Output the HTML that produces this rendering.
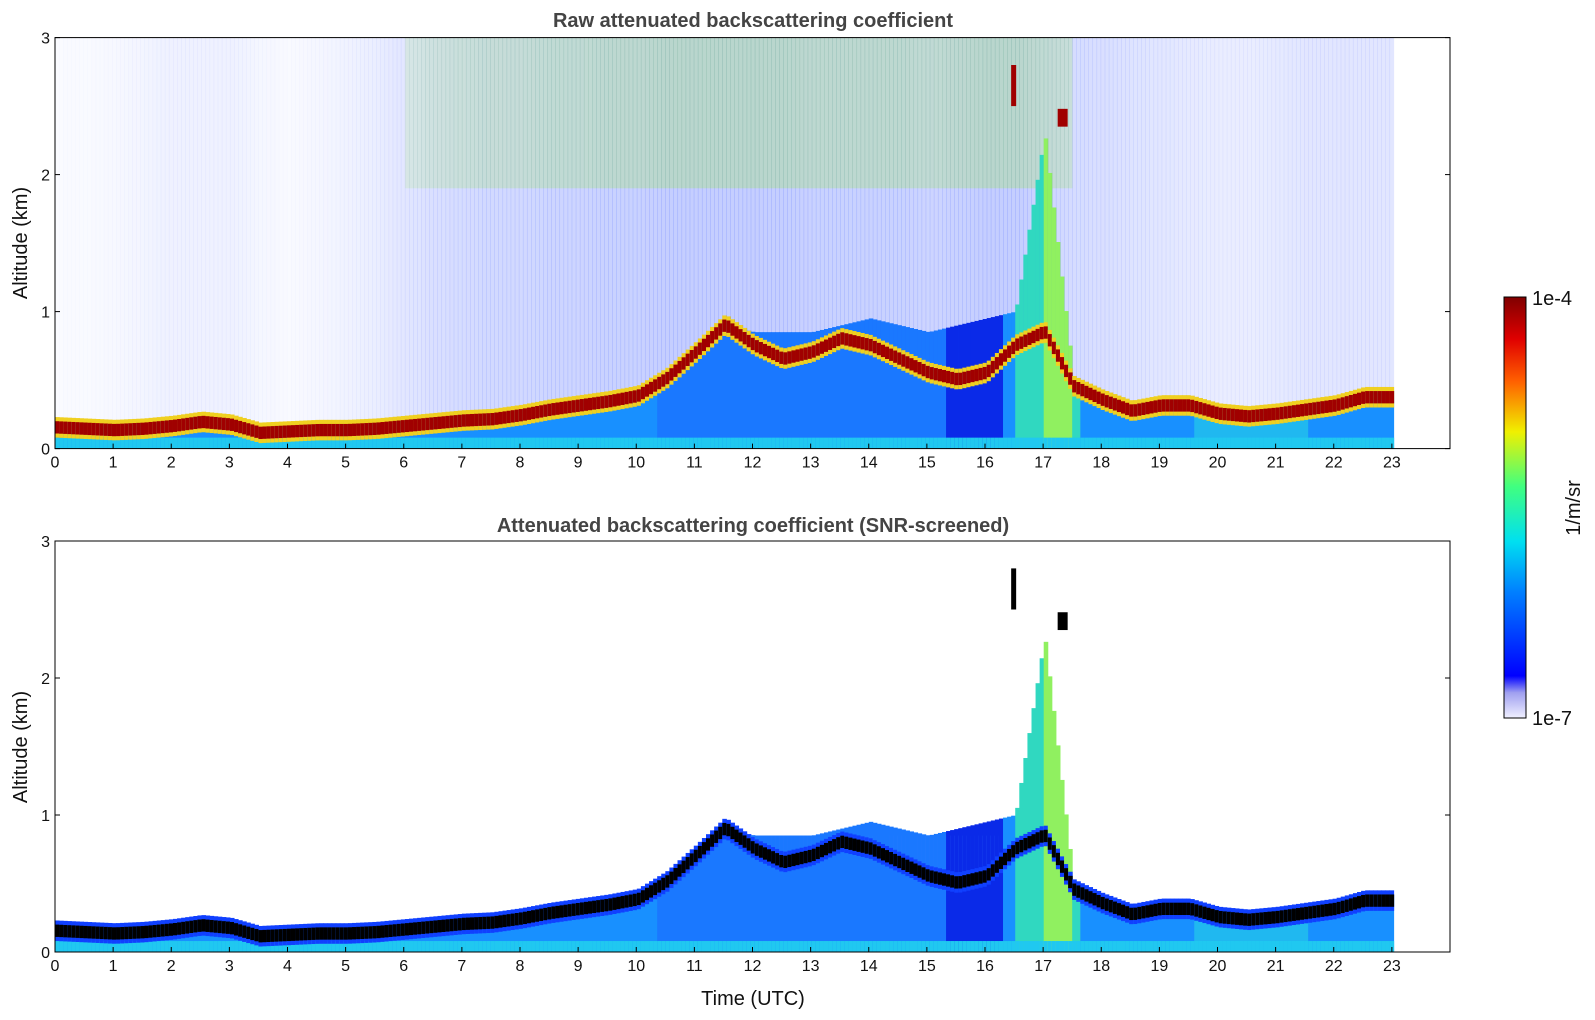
<!DOCTYPE html>
<html><head><meta charset="utf-8">
<style>
body{margin:0;background:#fff;}
svg{display:block;font-family:"Liberation Sans","DejaVu Sans",sans-serif;}
</style></head>
<body>
<svg id="chart" width="1595" height="1020" viewBox="0 0 1595 1020" xmlns="http://www.w3.org/2000/svg">
<defs>
<linearGradient id="jet" x1="0" y1="1" x2="0" y2="0">
<stop offset="0" stop-color="#f0f0ff"/><stop offset="0.06" stop-color="#a0a0f0"/>
<stop offset="0.1" stop-color="#0000ff"/><stop offset="0.3" stop-color="#0080ff"/>
<stop offset="0.42" stop-color="#00e0f0"/><stop offset="0.55" stop-color="#40ff80"/>
<stop offset="0.68" stop-color="#f0f000"/><stop offset="0.8" stop-color="#ff6000"/>
<stop offset="0.9" stop-color="#e00000"/><stop offset="1" stop-color="#800000"/>
</linearGradient>
</defs>
<g id="p1"></g>
<g id="p2"></g>
<text x="753" y="27" text-anchor="middle" font-size="20" font-weight="bold" fill="#444">Raw attenuated backscattering coefficient</text>
<text x="753" y="532" text-anchor="middle" font-size="20" font-weight="bold" fill="#444">Attenuated backscattering coefficient (SNR-screened)</text>
<text x="753" y="1005" text-anchor="middle" font-size="20" fill="#111">Time (UTC)</text>
<text transform="translate(27,243) rotate(-90)" text-anchor="middle" font-size="20" fill="#111">Altitude (km)</text>
<text transform="translate(27,747) rotate(-90)" text-anchor="middle" font-size="20" fill="#111">Altitude (km)</text>
<g>
<rect x="1504" y="297" width="22" height="421" fill="url(#jet)" stroke="#000" stroke-width="1"/>
<text x="1532" y="305" font-size="20" fill="#111">1e-4</text>
<text x="1532" y="725" font-size="20" fill="#111">1e-7</text>
<text transform="translate(1580,508) rotate(-90)" text-anchor="middle" font-size="20" fill="#111">1/m/sr</text>
</g>
</svg>
<script>
const times = [0,0.5,1,1.5,2,2.5,3,3.5,4,4.5,5,5.5,6,6.5,7,7.5,8,8.5,9,9.5,10,10.5,11,11.5,12,12.5,13,13.5,14,14.5,15,15.5,16,16.5,17,17.5,18,18.5,19,19.5,20,20.5,21,21.5,22,22.5,23];
const layerTop = [0.2,0.19,0.18,0.19,0.21,0.24,0.22,0.16,0.17,0.18,0.18,0.19,0.21,0.23,0.25,0.26,0.29,0.33,0.36,0.39,0.43,0.56,0.75,0.95,0.8,0.7,0.75,0.85,0.8,0.7,0.6,0.55,0.6,0.8,0.9,0.5,0.4,0.32,0.36,0.36,0.3,0.28,0.3,0.33,0.36,0.42,0.42];
const hazeTop = [0.1,0.1,0.1,0.1,0.1,0.1,0.1,0.08,0.08,0.08,0.08,0.1,0.12,0.14,0.16,0.18,0.2,0.23,0.26,0.3,0.35,0.5,0.7,0.9,0.85,0.85,0.85,0.9,0.95,0.9,0.85,0.9,0.95,1.0,2.3,0.5,0.3,0.3,0.35,0.3,0.25,0.25,0.25,0.3,0.3,0.35,0.35];
const noise = [0.06,0.08,0.1,0.15,0.2,0.2,0.2,0.12,0.08,0.12,0.18,0.25,0.35,0.45,0.5,0.55,0.55,0.6,0.6,0.65,0.65,0.7,0.7,0.7,0.7,0.7,0.65,0.65,0.65,0.65,0.6,0.65,0.7,0.7,0.6,0.5,0.45,0.4,0.35,0.3,0.25,0.25,0.3,0.35,0.35,0.35,0.35];
const xTicks = [0,1,2,3,4,5,6,7,8,9,10,11,12,13,14,15,16,17,18,19,20,21,22,23];
const yTicks = [0,1,2,3];
const panels = [{id:'p1',top:37.6,bottom:448.6,screen:false},{id:'p2',top:541,bottom:952,screen:true}];
const X0=55,X1=1450;
const xs = t => X0 + t*(X1-X0)/24;
const NS='http://www.w3.org/2000/svg';
function interp(arr,t){const i=Math.min(Math.floor(t*2),times.length-2);const f=(t-times[i])/0.5;return arr[i]*(1-f)+arr[i+1]*f;}
function hazeColor(t){ if(t>=15.3&&t<16.3) return '#0a2ae8'; if(t>=16.5&&t<17.6) return (t>17&&t<17.45)?'#90f060':'#30d8c0'; if(t>=10.3&&t<15.3) return '#1a78ff'; if(t>=19.6&&t<21.5) return '#20b8f0'; return '#1890ff';}
function mk(tag,attrs,parent){const e=document.createElementNS(NS,tag);for(const k in attrs)e.setAttribute(k,attrs[k]);parent.appendChild(e);return e;}
panels.forEach(p=>{
  const g=document.getElementById(p.id);
  const ys = v => p.bottom - v*(p.bottom-p.top)/3;
  const dt=0.07;
  for(let t=0;t<23-1e-9;t+=dt){
    const x=xs(t), w=xs(t+dt)-x+0.5;
    const h=interp(layerTop,t), hz=Math.max(interp(hazeTop,t),0.05), n=interp(noise,t);
    if(!p.screen){
      const nz=mk('rect',{x:x,y:ys(3),width:w,height:ys(h)-ys(3),fill:'#3050ff','fill-opacity':n*0.4},g);
      
      
      if(t>6&&t<17.5){const up=mk('rect',{x:x,y:ys(3),width:w,height:ys(1.9)-ys(3),fill:'#a0e860','fill-opacity':n*0.45},g);
        
        }
    } else if(t>11.5&&t<16.4){
      const bz=mk('rect',{x:x,y:ys(0.85),width:w,height:ys(h)-ys(0.85),fill:'#3a80ff'},g);
      
      
    }
    const hc=mk('rect',{x:x,y:ys(Math.max(hz,h)),width:w,height:ys(0)-ys(Math.max(hz,h)),fill:hazeColor(t)},g);
    
    
    const sf=mk('rect',{x:x,y:ys(0.08),width:w,height:ys(0)-ys(0.08),fill:'#20c8f0'},g);
    
    
    const band=0.09;
    const edge=mk('rect',{x:x,y:ys(h+0.03),width:w,height:ys(h-band-0.03)-ys(h+0.03),fill:p.screen?'#1040ff':'#f0d020'},g);
    
    
    const lb=mk('rect',{x:x,y:ys(h),width:w,height:ys(h-band)-ys(h),fill:p.screen?'#000':'#a00000'},g);
    
    
  }
  const cl1=mk('rect',{x:xs(17.25),y:ys(2.48),width:10,height:ys(2.35)-ys(2.48),fill:p.screen?'#000':'#a00000'},g);
  
  
  const cl2=mk('rect',{x:xs(16.45),y:ys(2.8),width:5,height:ys(2.5)-ys(2.8),fill:p.screen?'#000':'#a00000'},g);
  
  
  const fr=mk('rect',{x:X0,y:p.top,width:X1-X0,height:p.bottom-p.top,fill:'none',stroke:'#000','stroke-width':1},g);
  
  
  xTicks.forEach(t=>{
    const tk=mk('line',{x1:xs(t),x2:xs(t),y1:p.bottom,y2:p.bottom-5,stroke:'#000'},g);
    
    
    const tl=mk('text',{x:xs(t),y:p.bottom+19,'text-anchor':'middle','font-size':16,fill:'#111'},g);
    tl.textContent=t;
    
    
  });
  yTicks.forEach(v=>{
    const tk=mk('line',{x1:X0,x2:X0+5,y1:ys(v),y2:ys(v),stroke:'#000'},g);
    
    
    const tk2=mk('line',{x1:X1,x2:X1-5,y1:ys(v),y2:ys(v),stroke:'#000'},g);
    
    
    const tl=mk('text',{x:X0-5,y:ys(v)+6,'text-anchor':'end','font-size':16,fill:'#111'},g);
    tl.textContent=v;
    
    
  });
});
</script>
</body></html>
